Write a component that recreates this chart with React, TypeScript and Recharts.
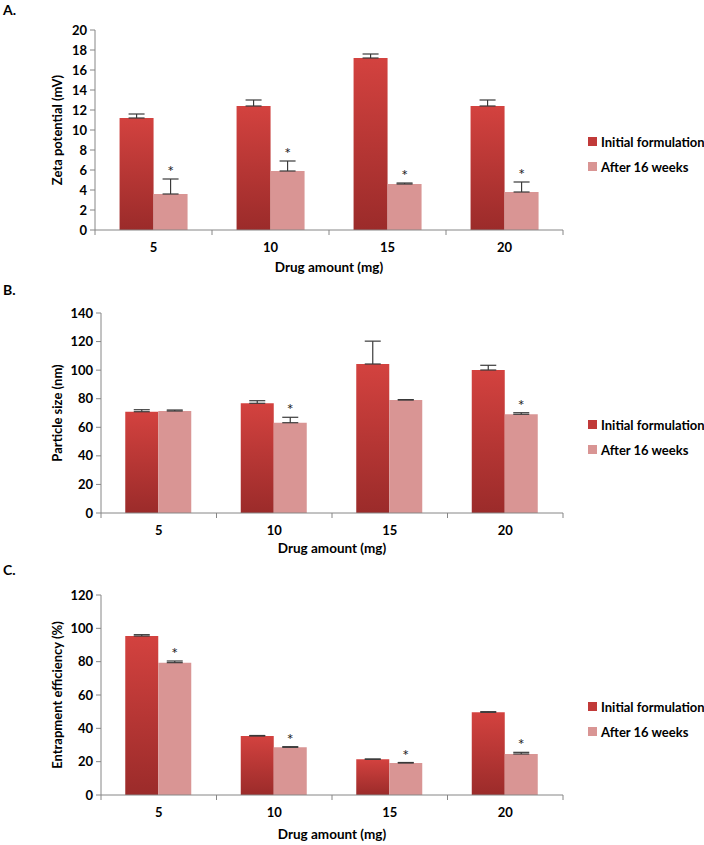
import React from "react";
import { BarChart, Bar, XAxis, YAxis, ErrorBar, LabelList } from "recharts";

const doses = ["5", "10", "15", "20"];

const zetaInitial = [11.2, 12.4, 17.2, 12.4];
const zetaInitialErr = [0.4, 0.6, 0.4, 0.6];
const zetaAfter = [3.6, 5.9, 4.6, 3.8];
const zetaAfterErr = [1.5, 1.0, 0.1, 1.0];
const zetaSig = [true, true, true, true];
const zetaTicks = [0, 2, 4, 6, 8, 10, 12, 14, 16, 18, 20];

const sizeInitial = [70.9, 76.8, 104.3, 100.1];
const sizeInitialErr = [1.4, 1.8, 16, 3.3];
const sizeAfter = [71.4, 63.2, 79.1, 69.1];
const sizeAfterErr = [0.7, 3.8, 0.3, 1.1];
const sizeSig = [false, true, false, true];
const sizeTicks = [0, 20, 40, 60, 80, 100, 120, 140];

const eeInitial = [95.4, 35.4, 21.4, 49.6];
const eeInitialErr = [0.8, 0.3, 0.2, 0.4];
const eeAfter = [79.4, 28.6, 19.2, 24.6];
const eeAfterErr = [1.0, 0.4, 0.3, 1.0];
const eeSig = [true, true, true, true];
const eeTicks = [0, 20, 40, 60, 80, 100, 120];

const seriesNames = ["Initial formulation", "After 16 weeks"];

const FONT = 'Lato, "Open Sans", sans-serif';
const AXIS = "#868686";
const DARK_TOP = "#d3423f";
const DARK_BOTTOM = "#9b2b2a";
const LIGHT = "#d99594";

type Row = {
  dose: string;
  initial: number;
  initialErr: number[];
  after: number;
  afterErr: number[];
  sig: boolean;
};

function buildRows(ini: number[], iniErr: number[], aft: number[], aftErr: number[], sig: boolean[]): Row[] {
  return doses.map((d, i) => ({
    dose: d,
    initial: ini[i],
    initialErr: [0, iniErr[i]],
    after: aft[i],
    afterErr: [0, aftErr[i]],
    sig: sig[i],
  }));
}

const BoundaryTick = (props: any) => {
  const { x, y, payload, index, visibleTicksCount, band } = props;
  const last = index === (visibleTicksCount ?? 4) - 1;
  return (
    <g>
      <line x1={x - band / 2} x2={x - band / 2} y1={y} y2={y + 5} stroke={AXIS} />
      {last && <line x1={x + band / 2} x2={x + band / 2} y1={y} y2={y + 5} stroke={AXIS} />}
      <text x={x} y={y + 22} textAnchor="middle" fontSize={13} fontWeight={700} fontFamily={FONT} fill="#000">
        {payload.value}
      </text>
    </g>
  );
};

const makeStar = (rows: Row[]) => (p: any) => {
  const row = rows.find((r) => r.dose === String(p.value));
  if (!row || !row.sig) return null;
  const vb = p.viewBox || p;
  const x = vb.x ?? p.x;
  const y = vb.y ?? p.y;
  const w = vb.width ?? p.width;
  const h = vb.height ?? p.height;
  const errTop = y - (row.afterErr[1] * h) / row.after;
  return (
    <text x={x + w / 2} y={errTop - 2} textAnchor="middle" fontSize={16} fontFamily={FONT} fill="#222">
      *
    </text>
  );
};

const LegendBox = ({ top }: { top: number }) => (
  <div style={{ position: "absolute", left: 588, top, fontFamily: FONT, fontWeight: 700, fontSize: 13, color: "#000" }}>
    {seriesNames.map((name, i) => (
      <div key={name} style={{ display: "flex", alignItems: "center", height: 25, whiteSpace: "nowrap" }}>
        <span style={{ width: 9, height: 9, background: i === 0 ? "#c13a39" : LIGHT, marginRight: 4, display: "inline-block" }} />
        {name}
      </div>
    ))}
  </div>
);

type PanelProps = {
  id: string;
  letter: string;
  top: number;
  height: number;
  mt: number;
  ml: number;
  yw: number;
  xh: number;
  xlOffset: number;
  legendTop: number;
  yLabel: string;
  max: number;
  ticks: number[];
  rows: Row[];
};

function Panel(p: PanelProps) {
  const plotW = 563 - (p.ml + p.yw);
  const band = plotW / doses.length;
  return (
    <div style={{ position: "absolute", left: 0, top: p.top, width: 704, height: p.height }}>
      <div style={{ position: "absolute", left: 3, top: 1, fontFamily: FONT, fontWeight: 700, fontSize: 14 }}>{p.letter}</div>
      <BarChart
        width={704}
        height={p.height}
        data={p.rows}
        margin={{ top: p.mt, right: 141, bottom: p.height - p.mt - 200 - p.xh, left: p.ml }}
        barCategoryGap="21%"
        barGap={0}
      >
        <defs>
          <linearGradient id={`grad-${p.id}`} x1="0" y1="0" x2="0" y2="1">
            <stop offset="0%" stopColor={DARK_TOP} />
            <stop offset="100%" stopColor={DARK_BOTTOM} />
          </linearGradient>
        </defs>
        <XAxis
          dataKey="dose"
          axisLine={{ stroke: AXIS }}
          tickLine={false}
          tickSize={0}
          tickMargin={0}
          interval={0}
          height={p.xh}
          tick={<BoundaryTick band={band} />}
          label={{
            value: "Drug amount (mg)",
            position: "insideBottom",
            offset: p.xlOffset,
            style: { fontFamily: FONT, fontWeight: 700, fontSize: 13.5, fill: "#000" },
          }}
        />
        <YAxis
          domain={[0, p.max]}
          ticks={p.ticks}
          interval={0}
          width={p.yw}
          axisLine={{ stroke: AXIS }}
          tickLine={{ stroke: AXIS }}
          tickSize={5}
          tickMargin={3}
          tick={{ fontSize: 13, fontWeight: 700, fill: "#000", fontFamily: FONT }}
          label={{
            value: p.yLabel,
            angle: -90,
            position: "center",
            style: { fontFamily: FONT, fontWeight: 700, fontSize: 13, fill: "#000", textAnchor: "middle" },
          }}
        />
        <Bar dataKey="initial" name={seriesNames[0]} fill={`url(#grad-${p.id})`} isAnimationActive={false}>
          <ErrorBar dataKey="initialErr" direction="y" width={8} stroke="#3a3a3a" strokeWidth={1.2} />
        </Bar>
        <Bar dataKey="after" name={seriesNames[1]} fill={LIGHT} isAnimationActive={false}>
          <ErrorBar dataKey="afterErr" direction="y" width={8} stroke="#3a3a3a" strokeWidth={1.2} />
          <LabelList dataKey="dose" content={makeStar(p.rows)} />
        </Bar>
      </BarChart>
      <LegendBox top={p.legendTop} />
    </div>
  );
}

export default function App() {
  const zetaRows = buildRows(zetaInitial, zetaInitialErr, zetaAfter, zetaAfterErr, zetaSig);
  const sizeRows = buildRows(sizeInitial, sizeInitialErr, sizeAfter, sizeAfterErr, sizeSig);
  const eeRows = buildRows(eeInitial, eeInitialErr, eeAfter, eeAfterErr, eeSig);
  return (
    <div style={{ position: "absolute", left: 0, top: 0, width: 704, height: 845, background: "#fff" }}>
      <Panel id="a" letter="A." top={0} height={280} mt={30} ml={19} yw={76} xh={45} xlOffset={3} legendTop={129}
        yLabel="Zeta potential (mV)" max={20} ticks={zetaTicks} rows={zetaRows} />
      <Panel id="b" letter="B." top={280} height={280} mt={33} ml={13} yw={88} xh={42} xlOffset={2} legendTop={132}
        yLabel="Particle size (nm)" max={140} ticks={sizeTicks} rows={sizeRows} />
      <Panel id="c" letter="C." top={560} height={285} mt={35} ml={13} yw={88} xh={48} xlOffset={4} legendTop={134}
        yLabel="Entrapment efficiency (%)" max={120} ticks={eeTicks} rows={eeRows} />
    </div>
  );
}
